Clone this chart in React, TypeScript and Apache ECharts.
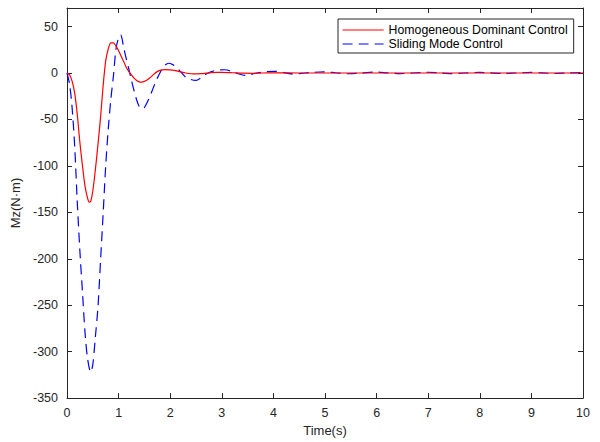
import React, { useEffect, useRef } from "react";
import * as echarts from "echarts";

const seriesNames = ["Homogeneous Dominant Control", "Sliding Mode Control"];

const tRed = [0, 0.05, 0.1, 0.15, 0.2, 0.25, 0.3, 0.35, 0.4, 0.43, 0.46, 0.5, 0.55, 0.6, 0.65, 0.7, 0.75, 0.8, 0.85, 0.9, 0.95, 1.0, 1.05, 1.1, 1.15, 1.2, 1.25, 1.3, 1.35, 1.4, 1.45, 1.5, 1.55, 1.6, 1.65, 1.7, 1.75, 1.8, 1.85, 1.9, 2.0, 2.1, 2.2, 2.3, 2.4, 2.5, 2.6, 2.7, 2.8, 2.9, 3.0, 3.2, 3.4, 3.6, 3.8, 4.0, 4.5, 5, 6, 7, 8, 9, 10];
const vRed = [0, -2, -9, -22, -45, -75, -100, -122, -135, -139, -138, -127, -104, -77, -48, -14, 13, 26, 32.5, 32.5, 29, 24, 18, 12, 6, 1.5, -2, -5.5, -8, -9.5, -9.7, -9, -7.5, -5.4, -3, -0.5, 1.5, 2.8, 3.4, 3.6, 3.4, 2.5, 1.2, 0, -0.8, -1, -0.7, -0.2, 0.3, 0.6, 0.6, 0.3, -0.2, -0.3, 0, 0.1, 0, 0, 0, 0, 0, 0, 0];

const tBlue = [0, 0.05, 0.1, 0.15, 0.2, 0.25, 0.3, 0.35, 0.4, 0.46, 0.5, 0.55, 0.6, 0.65, 0.7, 0.75, 0.8, 0.85, 0.9, 0.95, 1.0, 1.04, 1.1, 1.15, 1.2, 1.25, 1.3, 1.35, 1.4, 1.45, 1.5, 1.55, 1.6, 1.65, 1.7, 1.75, 1.8, 1.85, 1.9, 1.97, 2.05, 2.1, 2.2, 2.3, 2.4, 2.5, 2.6, 2.7, 2.8, 2.9, 3.06, 3.2, 3.3, 3.45, 3.6, 3.7, 3.85, 4.03, 4.2, 4.38, 4.55, 4.7, 5.0, 5.2, 5.45, 5.7, 6.0, 6.2, 6.45, 6.7, 7.0, 7.2, 7.45, 7.7, 8.0, 8.2, 8.45, 8.7, 9.0, 9.2, 9.45, 9.7, 10];
const vBlue = [0, -12, -38, -80, -140, -192, -236, -280, -308, -322, -314, -284, -252, -202, -152, -100, -60, -28, -3, 26, 38, 41, 27, 15, 4, -8, -19, -29, -36, -38.7, -37, -32, -26, -19, -12, -5.5, 0, 5, 8.5, 10.5, 9, 7, 1.5, -4.5, -7, -8, -5, -1, 1.5, 3, 3.5, 1.5, -0.5, -2.6, -1, 0.3, 1.3, 1.8, 0.5, -1, -0.3, 0.5, 1.2, 0.3, -0.8, 0, 1, 0.2, -0.7, 0, 0.8, 0.2, -0.6, 0, 0.7, 0.1, -0.5, 0, 0.6, 0.1, -0.5, 0, 0.4];

const xTicks = { min: 0, max: 10, interval: 1 };
const yTicks = { min: -350, max: 70, interval: 50 };

const FONT = "'Liberation Sans', Arial, Helvetica, sans-serif";
const AX = "#262626";

function zip(t: number[], v: number[]) {
  const n = Math.min(t.length, v.length);
  const out: number[][] = [];
  for (let i = 0; i < n; i++) out.push([t[i], v[i]]);
  return out;
}

export default function App() {
  const ref = useRef<HTMLDivElement>(null);
  useEffect(() => {
    if (!ref.current) return;
    const chart = echarts.init(ref.current, null, { renderer: "svg" });
    const axisLine = { show: true, onZero: false, lineStyle: { color: AX, width: 1 } };
    const tick = { show: true, inside: true, length: 5, lineStyle: { color: AX, width: 1 } };
    chart.setOption({
      animation: false,
      backgroundColor: "#ffffff",
      textStyle: { fontFamily: FONT },
      grid: { left: 67, right: 17, top: 8, bottom: 43, containLabel: false },
      legend: {
        orient: "vertical",
        left: 338,
        top: 19,
        padding: [5, 6, 3, 4],
        itemGap: 2,
        itemWidth: 41,
        itemHeight: 14,
        itemStyle: { opacity: 0 },
        lineStyle: { width: 1.2 },
        backgroundColor: "#ffffff",
        borderColor: AX,
        borderWidth: 1,
        textStyle: { color: "#000000", fontSize: 12.3, fontFamily: FONT },
        data: seriesNames,
      },
      xAxis: [
        {
          type: "value",
          ...xTicks,
          position: "bottom",
          axisLine,
          axisTick: tick,
          splitLine: { show: false },
          axisLabel: { color: AX, fontSize: 12.5, fontFamily: FONT, margin: 8 },
          name: "Time(s)",
          nameLocation: "middle",
          nameGap: 20,
          nameTextStyle: { color: AX, fontSize: 13, fontFamily: FONT },
        },
        {
          type: "value",
          ...xTicks,
          position: "top",
          axisLine,
          axisTick: tick,
          splitLine: { show: false },
          axisLabel: { show: false },
        },
      ],
      yAxis: [
        {
          type: "value",
          ...yTicks,
          position: "left",
          axisLine,
          axisTick: tick,
          splitLine: { show: false },
          axisLabel: {
            color: AX,
            fontSize: 12.5,
            fontFamily: FONT,
            margin: 9,
            showMaxLabel: false,
            formatter: (v: number) => (v % 50 === 0 ? String(v) : ""),
          },
          name: "Mz(N·m)",
          nameLocation: "middle",
          nameGap: 38,
          nameTextStyle: { color: AX, fontSize: 13, fontFamily: FONT },
        },
        {
          type: "value",
          ...yTicks,
          position: "right",
          axisLine,
          axisTick: tick,
          splitLine: { show: false },
          axisLabel: { show: false },
        },
      ],
      series: [
        {
          name: seriesNames[0],
          type: "line",
          xAxisIndex: 0,
          yAxisIndex: 0,
          data: zip(tRed, vRed),
          showSymbol: false,
          symbol: "none",
          smooth: 0.3,
          lineStyle: { color: "#ff0000", width: 1.2 },
          itemStyle: { color: "#ff0000" },
          z: 3,
        },
        {
          name: seriesNames[1],
          type: "line",
          xAxisIndex: 0,
          yAxisIndex: 0,
          data: zip(tBlue, vBlue),
          showSymbol: false,
          symbol: "none",
          smooth: 0.3,
          lineStyle: { color: "#0000ff", width: 1.2, type: [10, 6] },
          itemStyle: { color: "#0000ff" },
          z: 2,
        },
      ],
    });
    return () => chart.dispose();
  }, []);
  return <div ref={ref} style={{ width: 600, height: 442, position: "absolute", left: 0, top: 0 }} />;
}
